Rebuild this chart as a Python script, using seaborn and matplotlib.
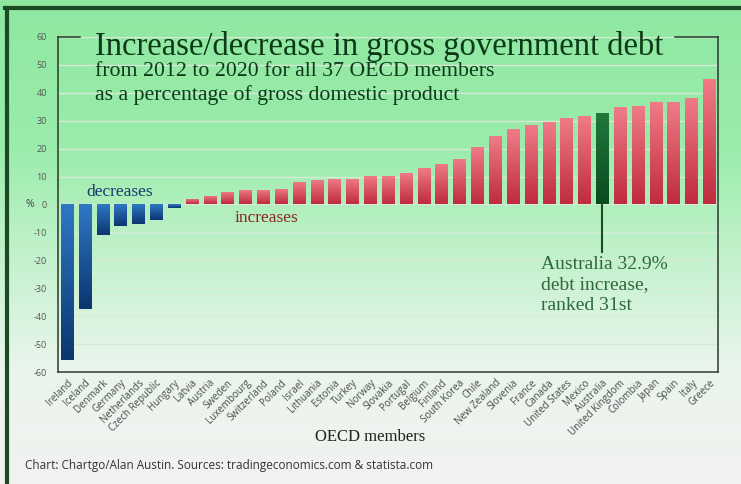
import numpy as np
import pandas as pd
import matplotlib
matplotlib.use('Agg')
import matplotlib.pyplot as plt
from matplotlib.colors import LinearSegmentedColormap
from matplotlib.lines import Line2D
import seaborn as sns

# data (change in gross govt debt, % of GDP, 2012-2020)
countries = ['Ireland', 'Iceland', 'Denmark', 'Germany', 'Netherlands', 'Czech Republic',
             'Hungary', 'Latvia', 'Austria', 'Sweden', 'Luxembourg', 'Switzerland', 'Poland',
             'Israel', 'Lithuania', 'Estonia', 'Turkey', 'Norway', 'Slovakia', 'Portugal',
             'Belgium', 'Finland', 'South Korea', 'Chile', 'New Zealand', 'Slovenia', 'France',
             'Canada', 'United States', 'Mexico', 'Australia', 'United Kingdom', 'Colombia',
             'Japan', 'Spain', 'Italy', 'Greece']
debt_change = [-55.8, -37.4, -10.8, -7.8, -7.1, -5.6, -1.4, 1.8, 3.2, 4.3, 5.1, 5.1, 5.7,
               8.2, 8.6, 9.0, 9.0, 10.1, 10.2, 11.3, 13.0, 14.5, 16.3, 20.6, 24.4, 26.9, 28.4,
               29.6, 31.0, 31.6, 32.9, 35.0, 35.3, 36.8, 36.8, 38.3, 44.8]
highlight = 'Australia'
y_ticks = [-60, -50, -40, -30, -20, -10, 0, 10, 20, 30, 40, 50, 60]

df = pd.DataFrame({'country': countries, 'change': debt_change})
df['group'] = np.where(df['change'] < 0, 'decrease', 'increase')
df.loc[df['country'] == highlight, 'group'] = 'highlight'

serif = 'Liberation Serif'
sans = 'Open Sans'
dark_green = '#0d3a18'

# colours: (top, bottom) of each bar's gradient
grad = {'decrease': ('#2f78c4', '#0b3670'),
        'increase': ('#f07c88', '#bf2c3e'),
        'highlight': ('#1f7a3c', '#0c4a20')}
palette = {k: v[1] for k, v in grad.items()}

fig = plt.figure(figsize=(7.41, 4.84), dpi=100)

# background gradient
bg = fig.add_axes([0, 0, 1, 1], zorder=-10)
bg_cmap = LinearSegmentedColormap.from_list('bg', [(0, '#8ee8a0'), (0.3, '#9aecab'),
                                                   (0.55, '#c6f2cf'), (0.76, '#eaf5ec'),
                                                   (1, '#f1f2f0')])
bg.imshow(np.linspace(0, 1, 256).reshape(-1, 1), cmap=bg_cmap, aspect='auto',
          extent=(0, 1, 0, 1), origin='upper')
bg.set_axis_off()

ax = fig.add_axes([0.0783, 0.2314, 0.8907, 0.6922])
ax.set_facecolor('none')
sns.barplot(data=df, x='country', y='change', hue='group', palette=palette,
            dodge=False, width=0.68, legend=False, ax=ax, zorder=3)

# vertical gradient in every bar
for p in ax.patches:
    idx = int(round(p.get_x() + p.get_width() / 2))
    g = df['group'].iloc[idx]
    cmap = LinearSegmentedColormap.from_list('b', list(grad[g]))
    x0, w = p.get_x(), p.get_width()
    y0, h = p.get_y(), p.get_height()
    lo, hi = min(y0, y0 + h), max(y0, y0 + h)
    im = ax.imshow(np.linspace(0, 1, 64).reshape(-1, 1), cmap=cmap, aspect='auto',
                   extent=(x0, x0 + w, lo, hi), origin='upper', zorder=4)
    im.set_clip_path(p)

ax.set_xlim(-0.5, len(countries) - 0.5)
ax.set_ylim(-60, 60)
ax.set_yticks(y_ticks)
ax.set_yticklabels([str(t) for t in y_ticks], fontfamily=sans, fontsize=6.5, color='#555555')
ax.set_xticks(range(len(countries)))
ax.set_xticklabels(countries, rotation=45, ha='right', rotation_mode='anchor',
                   fontfamily=sans, fontsize=7, color='#4a4a4a')
ax.tick_params(length=0, pad=4)
ax.tick_params(axis='y', pad=8)
ax.grid(axis='y', color='#d6ead6', lw=1, zorder=0)
ax.set_axisbelow(True)
ax.set_xlabel('')
ax.set_ylabel('')
fig.text(0.5, 1 - 437 / 484, 'OECD members', fontfamily=serif, fontsize=12,
         color='#222222', ha='center', va='center')

for s in ['left', 'right', 'bottom']:
    ax.spines[s].set_color('#2b3a2e')
    ax.spines[s].set_linewidth(1.1)
ax.spines['top'].set_visible(False)
# broken top frame around the title
ax.plot([0, 0.034], [1, 1], transform=ax.transAxes, color='#2b3a2e', lw=1.1, clip_on=False)
ax.plot([0.935, 1], [1, 1], transform=ax.transAxes, color='#2b3a2e', lw=1.1, clip_on=False)

ax.text(-0.036, 0.5, '%', transform=ax.transAxes, fontfamily=sans, fontsize=7.5,
        color='#444444', ha='right', va='center')

# titles
fig.text(0.128, 0.886, 'Increase/decrease in gross government debt', fontfamily=serif,
         fontsize=23.5, color=dark_green)
fig.text(0.128, 0.842, 'from 2012 to 2020 for all 37 OECD members', fontfamily=serif,
         fontsize=15.7, color=dark_green)
fig.text(0.128, 0.793, 'as a percentage of gross domestic product', fontfamily=serif,
         fontsize=15.7, color=dark_green)

ax.text(2.95, 4.3, 'decreases', fontfamily=serif, fontsize=12.5, color='#163a6a',
        ha='center', va='center')
ax.text(11.2, -5, 'increases', fontfamily=serif, fontsize=12.5, color='#8a2424',
        ha='center', va='center')

# Australia call-out
ai = countries.index(highlight)
ax.plot([ai, ai], [0, -17], color='#174d24', lw=1.5, zorder=5)
ax.text(ai - 3.45, -18.3, 'Australia 32.9%\ndebt increase,\nranked 31st', fontfamily=serif,
        fontsize=14, color='#2c6a3c', ha='left', va='top', linespacing=1.3)

fig.text(0.034, 0.039, 'Chart: Chartgo/Alan Austin. Sources: tradingeconomics.com & statista.com',
         fontfamily=sans, fontsize=8.5, color='#333333', va='center')

# outer dark green border (top and left)
fig.add_artist(Line2D([0.007, 1], [0.984, 0.984], color='#1c4a25', lw=3, transform=fig.transFigure))
fig.add_artist(Line2D([0.009, 0.009], [0, 0.984], color='#1c4a25', lw=3, transform=fig.transFigure))

fig.savefig('out.png', dpi=100)
